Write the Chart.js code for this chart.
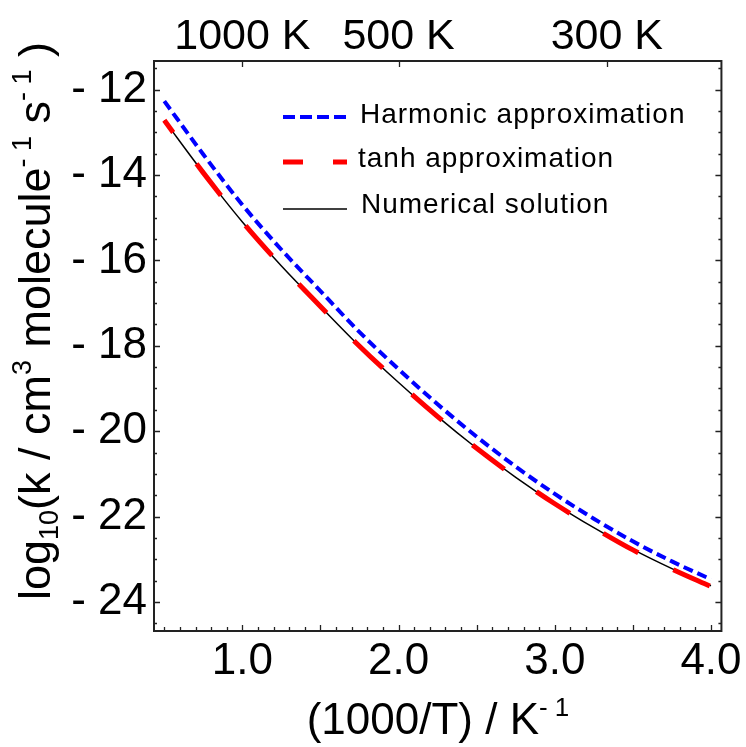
<!DOCTYPE html>
<html><head><meta charset="utf-8">
<script src="https://cdn.jsdelivr.net/npm/chart.js@4.4.0/dist/chart.umd.min.js"></script>
<style>html,body{margin:0;padding:0;background:#fff;}#wrap{width:746px;height:747px;}</style>
</head><body><div id="wrap"><canvas id="c" width="746" height="747"></canvas></div>
<script>
// ---- data ----
const invT = [0.5, 0.75, 1.0, 1.25, 1.5, 1.75, 2.0, 2.25, 2.5, 2.75, 3.0, 3.25, 3.5, 3.75, 4.0];
const harmonic = [-12.27, -13.52, -14.70, -15.75, -16.72, -17.68, -18.55, -19.37, -20.13, -20.83, -21.47, -22.05, -22.58, -23.05, -23.47];
const tanhApprox = [-12.72, -13.95, -15.10, -16.13, -17.08, -18.01, -18.86, -19.66, -20.40, -21.08, -21.70, -22.26, -22.78, -23.23, -23.64];
const numerical = [-12.72, -13.95, -15.10, -16.13, -17.08, -18.01, -18.86, -19.66, -20.40, -21.08, -21.70, -22.26, -22.77, -23.22, -23.62];
const seriesNames = ['Harmonic approximation', 'tanh approximation', 'Numerical solution'];
const xTickValues = [1.0, 2.0, 3.0, 4.0];
const yTickValues = [-12, -14, -16, -18, -20, -22, -24];
const topTemps = [1000, 500, 300];
const topTickLabels = ['1000 K', '500 K', '300 K'];
const xTitleParts = [['(1000/T) / K', 'n'], ['- 1', 'sup']];
const yTitleParts = [['log', 'n'], ['10', 'sub'], ['(k / cm', 'n'], ['3', 'sup'], [' molecule', 'n'], ['- 1', 'sup'], [' s', 'n'], ['- 1', 'sup'], [' )', 'n']];

const FONT = "'Liberation Sans', Arial, sans-serif";
const X_MIN = 0.434, X_MAX = 4.067, Y_MIN = -24.68, Y_MAX = -11.33;

const pts = arr => invT.map((x, i) => ({x: x, y: arr[i]}));

const legendRows = [
  {dash: [12, 5], y: 117, ty: 123, tx: 360},
  {dash: [20, 30], y: 162, ty: 167, tx: 358},
  {dash: [], y: 209, ty: 213, tx: 361}
];

function drawRich(ctx, parts, cx, cy, base) {
  const sz = p => p[1] === 'n' ? base : Math.round(base * 0.6);
  let total = 0;
  parts.forEach(p => { ctx.font = sz(p) + 'px ' + FONT; total += ctx.measureText(p[0]).width; });
  let x = cx - total / 2;
  parts.forEach(p => {
    ctx.font = sz(p) + 'px ' + FONT;
    let dy = 0;
    if (p[1] === 'sup') dy = -base * 0.42;
    if (p[1] === 'sub') dy = base * 0.18;
    ctx.fillText(p[0], x, cy + dy);
    x += ctx.measureText(p[0]).width;
  });
}

const decor = {
  id: 'decor',
  afterDraw(chart) {
    const ctx = chart.ctx, a = chart.chartArea;
    const xs = chart.scales.x, ys = chart.scales.y, x2 = chart.scales.x2;
    ctx.save();
    ctx.strokeStyle = '#222';
    ctx.lineWidth = 1.3;
    for (let v = -24.5; v <= -11.5 + 1e-9; v += 0.5) {
      const py = Math.round(ys.getPixelForValue(v)) + 0.5;
      const major = Math.abs(v % 2) < 1e-9;
      const L = major ? 6 : 3;
      ctx.beginPath();
      ctx.moveTo(a.left, py); ctx.lineTo(a.left + L, py);
      ctx.moveTo(a.right, py); ctx.lineTo(a.right - L, py);
      ctx.stroke();
    }
    for (let k = 5; k <= 40; k++) {
      const v = k / 10;
      const px = Math.round(xs.getPixelForValue(v)) + 0.5;
      const major = (k % 5 === 0) && k >= 10;
      const L = major ? 6 : 4;
      ctx.beginPath();
      ctx.moveTo(px, a.bottom); ctx.lineTo(px, a.bottom - L);
      ctx.stroke();
    }
    topTemps.forEach(T => {
      const px = Math.round(x2.getPixelForValue(1000 / T)) + 0.5;
      ctx.beginPath(); ctx.moveTo(px, a.top); ctx.lineTo(px, a.top + 6); ctx.stroke();
    });
    ctx.lineWidth = 2;
    ctx.strokeRect(a.left, a.top, a.right - a.left, a.bottom - a.top);
    chart.data.datasets.forEach((ds, i) => {
      const r = legendRows[i];
      ctx.strokeStyle = ds.borderColor;
      ctx.lineWidth = ds.borderWidth;
      ctx.setLineDash(r.dash);
      ctx.lineDashOffset = 0;
      ctx.beginPath(); ctx.moveTo(283, r.y); ctx.lineTo(347, r.y); ctx.stroke();
      ctx.setLineDash([]);
      ctx.fillStyle = '#000';
      ctx.font = '28px ' + FONT;
      ctx.letterSpacing = '1px';
      ctx.textBaseline = 'alphabetic';
      ctx.textAlign = 'left';
      ctx.fillText(ds.label, r.tx, r.ty);
      ctx.letterSpacing = '0px';
    });
    ctx.fillStyle = '#000';
    ctx.textAlign = 'left';
    ctx.textBaseline = 'alphabetic';
    drawRich(ctx, xTitleParts, 438, 734, 44);
    ctx.translate(50, 321);
    ctx.rotate(-Math.PI / 2);
    drawRich(ctx, yTitleParts, 0, 0, 45);
    ctx.restore();
  }
};

new Chart(document.getElementById('c'), {
  type: 'line',
  data: {
    datasets: [
      {label: seriesNames[0], data: pts(harmonic), borderColor: '#0000ff', borderWidth: 4, borderDash: [10, 5], pointRadius: 0, fill: false, cubicInterpolationMode: 'monotone'},
      {label: seriesNames[1], data: pts(tanhApprox), borderColor: '#ff0000', borderWidth: 5, borderDash: [40, 39], borderDashOffset: 25, pointRadius: 0, fill: false, cubicInterpolationMode: 'monotone'},
      {label: seriesNames[2], data: pts(numerical), borderColor: '#000000', borderWidth: 1.5, pointRadius: 0, fill: false, cubicInterpolationMode: 'monotone'}
    ]
  },
  options: {
    responsive: false,
    animation: false,
    devicePixelRatio: 1,
    layout: {padding: {left: 0, right: 23, top: 0, bottom: 0}},
    plugins: {legend: {display: false}, title: {display: false}, tooltip: {enabled: false}},
    scales: {
      x: {
        type: 'linear', position: 'bottom', min: X_MIN, max: X_MAX,
        afterBuildTicks: s => { s.ticks = xTickValues.map(v => ({value: v})); },
        ticks: {callback: v => Number(v).toFixed(1), font: {family: FONT, size: 44}, color: '#000', padding: 4, maxRotation: 0, autoSkip: false},
        grid: {display: false, drawTicks: false}, border: {display: false},
        afterFit: s => { s.height = 116; }
      },
      x2: {
        type: 'linear', position: 'top', min: X_MIN, max: X_MAX,
        afterBuildTicks: s => { s.ticks = topTemps.map(T => ({value: 1000 / T})); },
        ticks: {callback: (v, i) => topTickLabels[i], font: {family: FONT, size: 43}, color: '#000', padding: -2, maxRotation: 0, autoSkip: false},
        grid: {display: false, drawTicks: false}, border: {display: false},
        afterFit: s => { s.height = 61; }
      },
      y: {
        type: 'linear', position: 'left', min: Y_MIN, max: Y_MAX,
        afterBuildTicks: s => { s.ticks = yTickValues.map(v => ({value: v})); },
        ticks: {callback: v => '- ' + Math.abs(v), font: {family: FONT, size: 44}, color: '#000', padding: 7, autoSkip: false},
        grid: {display: false, drawTicks: false}, border: {display: false},
        afterFit: s => { s.width = 154; }
      }
    }
  },
  plugins: [decor]
});
</script>
</body></html>
